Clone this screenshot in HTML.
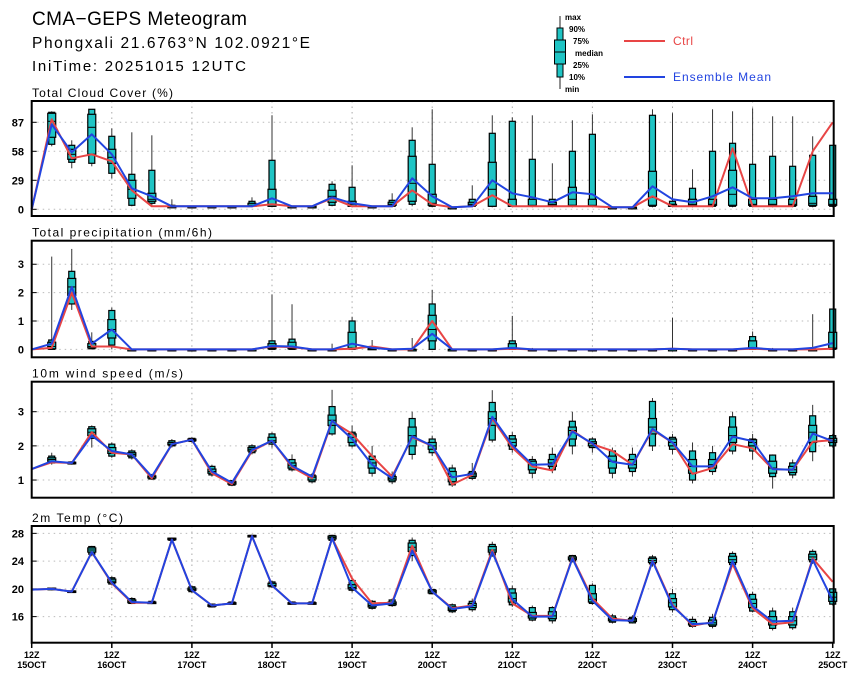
<!DOCTYPE html>
<html><head><meta charset="utf-8"><style>
body{margin:0;background:#fff}
svg{display:block;font-family:"Liberation Sans",sans-serif}
</style></head><body>
<svg id="chart" width="860" height="680" viewBox="0 0 860 680">
<g>
<text x="32" y="25" font-size="19" textLength="215" lengthAdjust="spacing">CMA−GEPS Meteogram</text>
<text x="32" y="48" font-size="15.5" textLength="278" lengthAdjust="spacing">Phongxali 21.6763°N 102.0921°E</text>
<text x="32" y="71" font-size="15" textLength="214" lengthAdjust="spacing">IniTime: 20251015 12UTC</text>
</g>
<g font-size="8" font-weight="bold">
<line x1="560" y1="16" x2="560" y2="89" stroke="#222"/>
<rect x="557" y="28" width="6" height="12" fill="#1fc4c4" stroke="#000"/>
<rect x="554.5" y="40" width="11" height="24" fill="#1fc4c4" stroke="#000"/>
<line x1="554.5" y1="52" x2="565.5" y2="52" stroke="#000"/>
<rect x="557" y="64" width="6" height="13" fill="#1fc4c4" stroke="#000"/>
<text x="565" y="20">max</text>
<text x="569" y="32">90%</text>
<text x="573" y="44">75%</text>
<text x="575" y="56">median</text>
<text x="573" y="68">25%</text>
<text x="569" y="80">10%</text>
<text x="565" y="92">min</text>
<line x1="624" y1="41" x2="665" y2="41" stroke="#e84545" stroke-width="2"/>
<text x="673" y="45" font-size="12" font-weight="normal" fill="#e84545" textLength="20" lengthAdjust="spacing">Ctrl</text>
<line x1="624" y1="77" x2="665" y2="77" stroke="#2244e0" stroke-width="2"/>
<text x="673" y="81" font-size="12" font-weight="normal" fill="#2244e0" textLength="98" lengthAdjust="spacing">Ensemble Mean</text>
</g>
</svg>
<script>
// ---- data (41 steps, 6-hourly from 12Z 15OCT) ----
const dayLabels = ["15OCT","16OCT","17OCT","18OCT","19OCT","20OCT","21OCT","22OCT","23OCT","24OCT","25OCT"];
const cloudTicks = [0,29,58,87];
const precipTicks = [0,1,2,3];
const windTicks = [1,2,3];
const tempTicks = [16,20,24,28];

const cloudCtrl = [0,90,51,55,48,19,3,3,3,3,3,3,5,3,3,11,3,3,3,19,5,2,3,14,3,3,3,3,3,2,2,13,3,3,3,61,3,3,3,58,87];
const cloudMean = [0,85,57,75,55,21,13,3,3,3,3,3,11,3,3,12,6,3,3,31,13,2,3,29,16,12,7,17,15,2,2,23,10,7,13,22,11,11,13,16,16];
// [min,p10,p25,median,p75,p90,max]
const cloudBox = [null,[63,65,72,88,96,97,98],[41,47,50,55,60,64,69],[43,46,55,82,95,100,100],[31,36,46,52,60,73,81],[3,4,11,20,29,35,77],[3,6,8,10,16,39,74],[2,2,3,3,3,4,10],[2,2,2,3,3,3,3],[2,2,2,3,3,3,3],[2,2,2,3,3,3,3],[2,3,3,4,6,8,12],[2,3,3,5,20,49,94],[2,2,3,3,3,3,3],[2,2,3,3,3,3,3],[3,4,7,13,19,25,28],[2,3,3,5,8,22,44],[2,2,2,3,3,3,3],[2,3,4,5,7,9,16],[3,5,8,26,53,69,82],[2,3,4,6,15,45,100],[1,2,2,2,2,2,3],[2,3,4,5,7,10,24],[2,3,3,20,47,76,94],[2,3,3,3,10,88,92],[2,3,3,4,10,50,94],[2,3,4,5,7,10,46],[2,3,4,10,22,58,89],[2,3,3,4,10,75,95],[1,2,2,2,2,2,3],[1,2,2,2,2,2,3],[2,3,4,12,38,94,100],[2,3,3,4,5,8,96],[2,3,4,5,10,21,40],[2,3,4,5,10,58,100],[2,3,4,15,39,66,98],[2,3,4,5,10,45,101],[2,3,4,5,10,53,93],[2,3,4,5,10,43,93],[2,3,4,6,13,54,73],[2,3,4,5,10,64,64]];

const precipCtrl = [0,0.05,2.0,0.1,0.1,0,0,0,0,0,0,0,0.1,0.08,0,0,0.02,0.1,0,0,1.0,0,0,0,0.02,0,0,0,0,0,0,0,0.02,0,0,0,0.02,0,0,0,0.02];
const precipMean = [0,0.2,2.2,0.2,0.7,0,0,0,0,0,0,0,0.12,0.1,0,0,0.2,0.05,0,0.02,0.55,0,0,0,0.05,0,0,0,0,0,0,0,0.02,0,0,0,0.05,0,0,0.05,0.22];
const precipBox = [null,[0,0,0.02,0.1,0.25,0.33,3.27],[1.39,1.6,1.9,2.2,2.5,2.75,3.54],[0,0.02,0.05,0.1,0.2,0.28,0.6],[0,0.15,0.4,0.7,1.05,1.37,1.47],[0,0,0,0,0,0,0],[0,0,0,0,0,0,0],[0,0,0,0,0,0,0],[0,0,0,0,0,0,0],[0,0,0,0,0,0,0],[0,0,0,0,0,0,0],[0,0,0,0,0,0,0],[0,0,0.02,0.05,0.2,0.3,1.94],[0,0,0.02,0.05,0.25,0.36,1.59],[0,0,0,0,0,0,0],[0,0,0,0,0,0,0.2],[0,0,0.02,0.05,0.6,1.0,1.15],[0,0,0,0.02,0.04,0.05,0.33],[0,0,0,0,0,0,0],[0,0,0,0,0,0.01,0.4],[0,0,0.3,0.7,1.2,1.6,2.1],[0,0,0,0,0,0,0],[0,0,0,0,0,0,0],[0,0,0,0,0,0,0],[0,0,0.02,0.05,0.2,0.3,1.18],[0,0,0,0,0,0,0.05],[0,0,0,0,0,0,0],[0,0,0,0,0,0,0],[0,0,0,0,0,0,0],[0,0,0,0,0,0,0],[0,0,0,0,0,0,0],[0,0,0,0,0,0,0],[0,0,0,0,0,0.01,1.12],[0,0,0,0,0,0,0],[0,0,0,0,0,0,0],[0,0,0,0,0,0,0],[0,0,0.02,0.05,0.3,0.45,0.63],[0,0,0,0,0,0,0.05],[0,0,0,0,0,0,0],[0,0,0,0,0,0.02,1.24],[0,0,0.02,0.05,0.6,1.42,1.42]];

const windCtrl = [1.32,1.52,1.5,2.4,1.8,1.75,1.05,2.05,2.18,1.2,0.88,1.85,2.15,1.38,1.05,2.72,2.35,1.7,1.1,2.25,2.0,0.87,1.15,2.8,1.95,1.4,1.28,2.45,2.05,1.85,1.45,2.47,2.1,1.18,1.35,2.05,1.93,1.32,1.3,2.12,2.17];
const windMean = [1.32,1.55,1.5,2.3,1.85,1.75,1.1,2.05,2.18,1.25,0.92,1.88,2.15,1.42,1.1,2.74,2.2,1.45,1.05,2.28,2.0,1.08,1.18,2.85,2.02,1.45,1.46,2.42,2.07,1.53,1.45,2.5,2.1,1.4,1.4,2.27,2.14,1.32,1.3,2.36,2.14];
const windBox = [null,[1.45,1.5,1.55,1.6,1.65,1.7,1.8],[1.45,1.47,1.48,1.5,1.52,1.53,1.55],[1.95,2.22,2.3,2.4,2.5,2.56,2.6],[1.65,1.7,1.78,1.85,1.95,2.05,2.1],[1.6,1.65,1.7,1.75,1.8,1.85,1.9],[1.0,1.03,1.06,1.1,1.12,1.15,1.18],[1.95,2.0,2.03,2.05,2.1,2.15,2.2],[2.1,2.13,2.15,2.18,2.2,2.22,2.25],[1.1,1.15,1.2,1.25,1.32,1.4,1.45],[0.82,0.85,0.88,0.92,0.95,0.98,1.0],[1.75,1.8,1.85,1.9,1.95,2.0,2.05],[1.95,2.05,2.1,2.15,2.25,2.35,2.4],[1.25,1.3,1.35,1.42,1.5,1.6,1.75],[0.9,0.95,1.0,1.08,1.12,1.15,1.2],[2.3,2.35,2.6,2.75,2.9,3.15,3.64],[1.95,2.0,2.1,2.25,2.35,2.4,2.6],[1.1,1.2,1.35,1.5,1.6,1.7,2.0],[0.88,0.95,1.0,1.05,1.1,1.15,1.25],[1.6,1.75,2.0,2.3,2.55,2.8,3.0],[1.7,1.8,1.9,2.0,2.1,2.2,2.3],[0.8,0.86,0.95,1.1,1.25,1.35,1.45],[1.0,1.05,1.1,1.15,1.2,1.25,1.5],[2.1,2.17,2.6,2.8,3.0,3.27,3.63],[1.8,1.9,2.0,2.1,2.2,2.3,2.4],[1.05,1.2,1.3,1.45,1.55,1.6,1.7],[1.2,1.3,1.4,1.5,1.6,1.75,1.95],[1.75,2.0,2.2,2.45,2.55,2.72,3.0],[1.8,1.95,2.0,2.07,2.12,2.2,2.25],[1.05,1.2,1.35,1.55,1.7,1.85,1.95],[1.1,1.25,1.35,1.45,1.6,1.75,1.95],[1.85,2.0,2.35,2.55,2.8,3.3,3.4],[1.75,1.9,2.0,2.1,2.2,2.25,2.35],[0.9,1.0,1.2,1.4,1.6,1.85,2.1],[1.15,1.25,1.35,1.45,1.6,1.8,2.0],[1.75,1.85,2.1,2.3,2.55,2.85,3.0],[1.6,1.85,2.0,2.1,2.18,2.2,2.35],[0.75,1.1,1.2,1.35,1.55,1.73,1.75],[1.05,1.15,1.22,1.3,1.4,1.5,1.6],[1.55,1.83,2.1,2.4,2.6,2.88,3.2],[1.95,2.0,2.1,2.15,2.22,2.3,2.35]];

const tempCtrl = [19.9,20.0,19.6,25.3,20.8,18.0,18.0,27.1,19.8,17.6,17.9,27.6,20.5,17.9,17.9,27.3,21.5,17.9,18.0,26.2,19.6,17.2,17.6,25.6,17.9,16.1,16.1,24.5,18.6,15.7,15.4,24.1,17.7,14.7,15.2,23.6,17.2,14.9,15.2,24.4,21.0];
const tempMean = [19.9,20.0,19.6,25.3,20.9,18.1,18.0,27.1,19.8,17.6,17.9,27.6,20.5,17.9,17.9,27.3,20.2,17.6,17.9,25.5,19.6,17.1,17.5,25.3,18.5,16.0,16.0,24.4,18.3,15.5,15.4,24.0,17.5,14.9,15.1,24.0,17.5,15.3,15.4,24.2,18.3];
const tempBox = [null,[19.8,19.9,19.9,20.0,20.1,20.1,20.2],[19.5,19.5,19.6,19.6,19.7,19.7,19.8],[24.7,25.0,25.3,25.6,25.9,26.1,26.2],[20.5,20.7,20.9,21.1,21.4,21.6,21.8],[17.8,17.9,18.0,18.2,18.4,18.6,18.8],[17.8,17.9,18.0,18.0,18.1,18.2,18.3],[26.9,27.0,27.1,27.2,27.3,27.3,27.4],[19.4,19.6,19.8,19.9,20.1,20.3,20.5],[17.3,17.4,17.5,17.6,17.7,17.8,17.9],[17.7,17.8,17.9,17.9,18.0,18.1,18.2],[27.4,27.5,27.5,27.6,27.7,27.7,27.8],[20.1,20.3,20.4,20.5,20.8,21.0,21.2],[17.7,17.8,17.9,17.9,18.0,18.1,18.2],[17.7,17.8,17.9,17.9,18.0,18.1,18.2],[26.9,27.0,27.2,27.4,27.6,27.7,27.8],[19.5,19.8,20.0,20.2,20.6,21.2,21.5],[17.0,17.2,17.4,17.6,17.9,18.2,18.4],[17.4,17.6,17.7,17.9,18.1,18.4,18.6],[24.0,24.8,25.4,26.0,26.6,27.0,27.4],[19.2,19.3,19.4,19.6,19.8,19.9,20.0],[16.5,16.7,16.9,17.1,17.4,17.7,17.9],[16.7,17.0,17.3,17.6,17.9,18.2,18.6],[24.6,24.9,25.3,25.6,26.1,26.4,26.8],[17.4,17.7,18.1,18.6,19.4,20.0,20.5],[15.3,15.5,15.8,16.1,16.6,17.3,17.6],[15.0,15.4,15.7,16.1,16.7,17.3,17.5],[23.8,24.0,24.2,24.4,24.6,24.8,24.9],[17.7,17.9,18.1,18.5,19.3,20.5,20.8],[15.0,15.2,15.4,15.6,15.8,16.1,16.4],[15.0,15.1,15.3,15.5,15.7,15.9,16.2],[23.2,23.6,23.8,24.1,24.4,24.6,24.9],[16.6,17.0,17.4,18.0,18.6,19.3,20.0],[14.4,14.6,14.8,15.0,15.3,15.6,16.0],[14.3,14.6,14.8,15.1,15.5,15.9,16.4],[23.3,23.5,23.8,24.2,24.7,25.1,25.4],[16.6,16.8,17.3,17.9,18.5,19.2,19.6],[14.0,14.3,14.8,15.4,16.0,16.8,17.3],[14.1,14.4,14.8,15.4,16.0,16.7,17.3],[23.6,23.9,24.2,24.6,25.0,25.4,25.7],[17.6,17.8,18.2,18.8,19.5,20.0,20.0]];

// ---- layout ----
const X0 = 31.7, X1 = 832.7, N = 40;
const xs = i => X0 + (X1 - X0) * i / N;
const panels = [
  {name:'cloud-cover', title:'Total Cloud Cover (%)', tw:141, top:101, bot:216, vTop:108.3, vBot:-6.7, ticks:cloudTicks, ctrl:cloudCtrl, mean:cloudMean, box:cloudBox},
  {name:'precipitation', title:'Total precipitation (mm/6h)', tw:180, top:240.7, bot:357.3, vTop:3.83, vBot:-0.28, ticks:precipTicks, ctrl:precipCtrl, mean:precipMean, box:precipBox},
  {name:'wind-speed', title:'10m wind speed (m/s)', tw:151, top:381.7, bot:497.7, vTop:3.878, vBot:0.483, ticks:windTicks, ctrl:windCtrl, mean:windMean, box:windBox},
  {name:'temperature', title:'2m Temp (°C)', tw:91, top:526, bot:642.7, vTop:29.06, vBot:12.24, ticks:tempTicks, ctrl:tempCtrl, mean:tempMean, box:tempBox}
];
const NS = 'http://www.w3.org/2000/svg';
const svg = document.getElementById('chart');
function mk(tag, attrs, parent){
  const e = document.createElementNS(NS, tag);
  for (const k in attrs) e.setAttribute(k, attrs[k]);
  parent.appendChild(e); return e;
}
panels.forEach(p => {
  const ys = v => p.top + (p.vTop - v) / (p.vTop - p.vBot) * (p.bot - p.top);
  const g = mk('g', {}, svg);
  
  
  const t = mk('text', {x:32, y:p.top - 4, 'font-size':12, textLength:p.tw, lengthAdjust:'spacing'}, g);
  t.textContent = p.title;
  
  
  p.ticks.forEach(v => {
    const y = ys(v);
    const gl = mk('line', {x1:X0, x2:X1, y1:y, y2:y, stroke:'#bbb', 'stroke-dasharray':'1.5 4'}, g);
    
    
    const tk = mk('line', {x1:X0, x2:X0+5, y1:y, y2:y, stroke:'#000'}, g);
    
    
    const tl = mk('text', {x:24, y:y+4, 'font-size':11, 'font-weight':'bold', 'text-anchor':'end'}, g);
    tl.textContent = v;
    
    
  });
  for (let d = 1; d < dayLabels.length - 1; d++) {
    const x = xs(d * 4);
    const vl = mk('line', {x1:x, x2:x, y1:p.top, y2:p.bot, stroke:'#aaa', 'stroke-dasharray':'1.5 4'}, g);
    
    
  }
  p.box.forEach((b, i) => {
    if (!b) return;
    const x = xs(i);
    const bg = mk('g', {}, g);
    
    
    mk('line', {x1:x, x2:x, y1:ys(b[6]), y2:ys(b[0]), stroke:'#333', 'stroke-width':1}, bg);
    const y90 = ys(b[5]), y10 = ys(b[1]), y75 = ys(b[4]), y25 = ys(b[2]);
    mk('rect', {x:x-3, y:y90, width:6, height:Math.max(1.5, y10-y90), fill:'#1fc4c4', stroke:'#000', 'stroke-width':1.2}, bg);
    mk('rect', {x:x-4, y:y75, width:8, height:Math.max(1.5, y25-y75), fill:'#1fc4c4', stroke:'#000', 'stroke-width':1.2}, bg);
    const ym = ys(b[3]);
    mk('line', {x1:x-4, x2:x+4, y1:ym, y2:ym, stroke:'#000', 'stroke-width':1}, bg);
  });
  const pts = arr => arr.map((v, i) => xs(i).toFixed(1) + ',' + ys(v).toFixed(1)).join(' ');
  const lc = mk('polyline', {points:pts(p.ctrl), fill:'none', stroke:'#e84545', 'stroke-width':2, 'stroke-linejoin':'round'}, g);
  
  
  const lm = mk('polyline', {points:pts(p.mean), fill:'none', stroke:'#2244e0', 'stroke-width':2, 'stroke-linejoin':'round'}, g);
  
  
  const fr = mk('rect', {x:X0, y:p.top, width:X1-X0+1, height:p.bot-p.top, fill:'none', stroke:'#000', 'stroke-width':2}, g);
  
  
});
const xg = mk('g', {}, svg);


dayLabels.forEach((lab, d) => {
  const x = xs(d * 4);
  mk('line', {x1:x, x2:x, y1:642.7, y2:648, stroke:'#000', 'stroke-width':1.5}, xg);
  const t1 = mk('text', {x:x, y:658, 'font-size':9, 'font-weight':'bold', 'text-anchor':'middle'}, xg);
  t1.textContent = '12Z';
  
  
  const t2 = mk('text', {x:x, y:668, 'font-size':9, 'font-weight':'bold', 'text-anchor':'middle'}, xg);
  t2.textContent = lab;
  
  
});
</script>
</body></html>
